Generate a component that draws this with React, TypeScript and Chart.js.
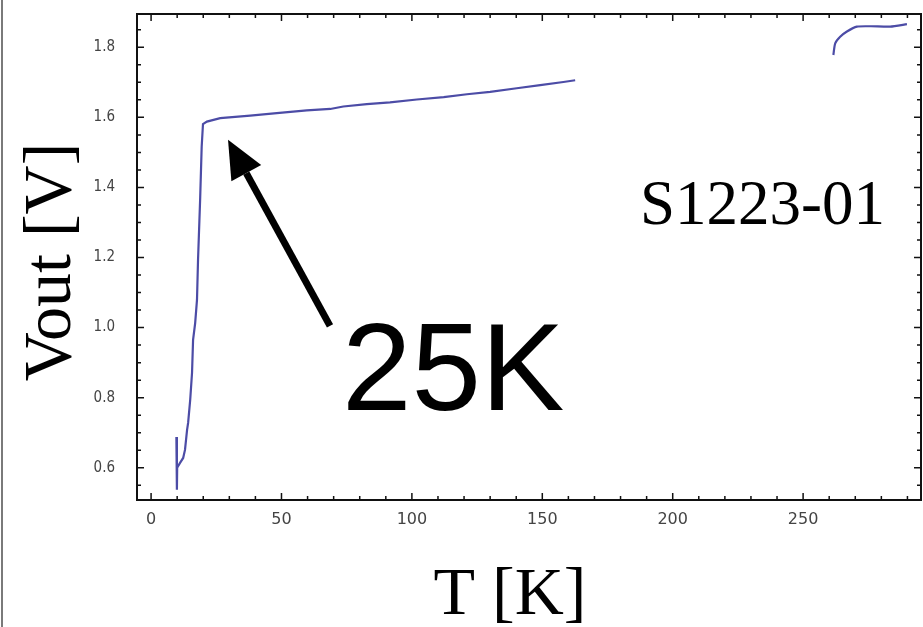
import React, { useEffect, useRef } from "react";
import { Chart, registerables } from "chart.js";

Chart.register(...registerables);

// Segment 1 (low temperature sweep)
const seg1T = [9.7, 9.9, 10.0, 11.1, 12.3, 13.0, 13.8, 14.2, 15.0, 15.7, 16.1, 16.9, 17.6, 18.0, 18.8, 19.4, 19.9, 21.4, 26.5, 38.0, 48.2, 59.7, 68.7, 73.7, 82.7, 91.6, 101.9, 112.2, 121.1, 130.0, 140.2, 149.2, 158.1, 162.6];
const seg1V = [0.688, 0.537, 0.600, 0.614, 0.628, 0.651, 0.708, 0.728, 0.794, 0.871, 0.965, 1.013, 1.079, 1.193, 1.364, 1.516, 1.581, 1.588, 1.598, 1.605, 1.612, 1.620, 1.624, 1.631, 1.638, 1.643, 1.651, 1.658, 1.666, 1.673, 1.683, 1.692, 1.701, 1.706];

// Segment 2 (high temperature)
const seg2T = [261.6, 262.3, 264.2, 266.8, 270.6, 276.0, 283.4, 289.8];
const seg2V = [1.778, 1.811, 1.830, 1.845, 1.859, 1.860, 1.859, 1.866];

const xTicks = [0, 50, 100, 150, 200, 250];
const yTicks = [0.6, 0.8, 1.0, 1.2, 1.4, 1.6, 1.8];
const xMin = -5.4;
const xMax = 295.2;
const yMin = 0.508;
const yMax = 1.895;
const xMinorStep = 10;
const yMinorStep = 0.05;

const xTitle = "T [K]";
const yTitle = "Vout [V]";
const sampleLabel = "S1223-01";
const arrowLabel = "25K";
const arrowTipT = 29.5;
const arrowTipV = 1.536;
const arrowTailT = 68.6;
const arrowTailV = 1.005;

const lineColor = "#4c4ca6";

const framePlugin = {
  id: "framePlugin",
  afterDraw(chart: any) {
    const { ctx, chartArea } = chart;
    const xs = chart.scales.x;
    const ys = chart.scales.y;
    const { left, right, top, bottom } = chartArea;
    ctx.save();
    // outer gray border at left of picture
    ctx.strokeStyle = "#7a7a7a";
    ctx.lineWidth = 2;
    ctx.beginPath();
    ctx.moveTo(2, 0);
    ctx.lineTo(2, chart.height);
    ctx.stroke();

    // frame
    ctx.strokeStyle = "#111";
    ctx.lineWidth = 2;
    ctx.strokeRect(left, top, right - left, bottom - top);

    // ticks
    ctx.lineWidth = 1.5;
    ctx.beginPath();
    for (let v = 0; v <= xMax; v += xMinorStep) {
      const px = xs.getPixelForValue(v);
      if (px < left || px > right) continue;
      const major = Math.abs(v % 50) < 1e-6;
      const len = major ? 7 : 4;
      ctx.moveTo(px, bottom);
      ctx.lineTo(px, bottom - len);
      ctx.moveTo(px, top);
      ctx.lineTo(px, top + len);
    }
    for (let i = 0; ; i++) {
      const v = 0.5 + i * yMinorStep;
      if (v > yMax) break;
      if (v < yMin) continue;
      const py = ys.getPixelForValue(v);
      const major = Math.abs(Math.round(v * 10) - v * 10) < 1e-6 && Math.round(v * 10) % 2 === 0;
      const len = major ? 7 : 4;
      ctx.moveTo(left, py);
      ctx.lineTo(left + len, py);
      ctx.moveTo(right, py);
      ctx.lineTo(right - len, py);
    }
    ctx.stroke();

    // titles
    ctx.fillStyle = "#000";
    ctx.font = '68px "Liberation Serif"';
    ctx.textAlign = "center";
    ctx.textBaseline = "alphabetic";
    ctx.fillText(xTitle, 510, 614);

    ctx.save();
    ctx.translate(70, 262);
    ctx.rotate(-Math.PI / 2);
    ctx.fillText(yTitle, 0, 0);
    ctx.restore();

    ctx.font = '63px "Liberation Serif"';
    ctx.textAlign = "left";
    ctx.fillText(sampleLabel, 640, 224);

    ctx.font = '125px "Liberation Sans"';
    ctx.fillText(arrowLabel, 342, 410);

    // arrow
    const tipX = xs.getPixelForValue(arrowTipT);
    const tipY = ys.getPixelForValue(arrowTipV);
    const tailX = xs.getPixelForValue(arrowTailT);
    const tailY = ys.getPixelForValue(arrowTailV);
    const ang = Math.atan2(tipY - tailY, tipX - tailX);
    const headLen = 38;
    const headW = 17;
    const baseX = tipX - headLen * Math.cos(ang);
    const baseY = tipY - headLen * Math.sin(ang);
    ctx.strokeStyle = "#000";
    ctx.lineWidth = 7;
    ctx.beginPath();
    ctx.moveTo(tailX, tailY);
    ctx.lineTo(baseX, baseY);
    ctx.stroke();
    ctx.beginPath();
    ctx.moveTo(tipX, tipY);
    ctx.lineTo(baseX + headW * Math.sin(ang), baseY - headW * Math.cos(ang));
    ctx.lineTo(baseX - headW * Math.sin(ang), baseY + headW * Math.cos(ang));
    ctx.closePath();
    ctx.fill();
    ctx.restore();
  },
};

export default function App() {
  const ref = useRef<HTMLCanvasElement | null>(null);
  useEffect(() => {
    if (!ref.current) return;
    const chart = new Chart(ref.current, {
      type: "line",
      data: {
        datasets: [
          {
            data: seg1T.map((t, i) => ({ x: t, y: seg1V[i] })),
            borderColor: lineColor,
            borderWidth: 2.2,
            pointRadius: 0,
            tension: 0,
            fill: false,
          },
          {
            data: seg2T.map((t, i) => ({ x: t, y: seg2V[i] })),
            borderColor: lineColor,
            borderWidth: 2.2,
            pointRadius: 0,
            tension: 0.2,
            fill: false,
          },
        ],
      },
      options: {
        responsive: false,
        animation: false,
        layout: { padding: { top: 14, right: 2, left: 0, bottom: 0 } },
        plugins: { legend: { display: false }, tooltip: { enabled: false } },
        scales: {
          x: {
            type: "linear",
            min: xMin,
            max: xMax,
            grid: { display: false, drawTicks: false },
            border: { display: false },
            afterBuildTicks: (s: any) => {
              s.ticks = xTicks.map((v) => ({ value: v }));
            },
            afterFit: (s: any) => {
              s.height = 127;
              s.paddingLeft = 0;
              s.paddingRight = 0;
            },
            ticks: {
              padding: 10,
              color: "#444",
              font: { family: '"DejaVu Sans"', size: 16 },
              maxRotation: 0,
              autoSkip: false,
              callback: (v: any) => String(v),
            },
          },
          y: {
            type: "linear",
            min: yMin,
            max: yMax,
            grid: { display: false, drawTicks: false },
            border: { display: false },
            afterBuildTicks: (s: any) => {
              s.ticks = yTicks.map((v) => ({ value: v }));
            },
            afterFit: (s: any) => {
              s.width = 137;
              s.paddingTop = 0;
              s.paddingBottom = 0;
            },
            ticks: {
              padding: 22,
              color: "#444",
              font: { family: '"DejaVu Sans Condensed"', size: 15 },
              autoSkip: false,
              callback: (v: any) => Number(v).toFixed(1),
            },
          },
        },
      },
      plugins: [framePlugin],
    });
    return () => chart.destroy();
  }, []);
  return (
    <div style={{ position: "absolute", left: 0, top: 0, width: 923, height: 627, background: "#fff" }}>
      <canvas ref={ref} width={923} height={627} />
    </div>
  );
}
